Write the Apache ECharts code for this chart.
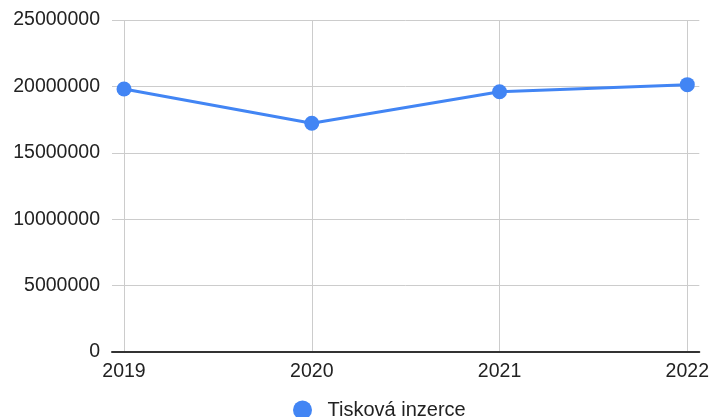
<!DOCTYPE html>
<html>
<head>
<meta charset="utf-8">
<script src="https://cdn.jsdelivr.net/npm/echarts@6/dist/echarts.min.js"></script>
<style>
  html, body { margin: 0; padding: 0; background: #fff; }
  #chart { width: 712px; height: 417px; }
</style>
</head>
<body>
<div id="chart"></div>
<script>
var years = [2019, 2020, 2021, 2022];
var seriesName = 'Tisková inzerce';
var values = [19800000, 17220000, 19600000, 20130000];

var myChart = echarts.init(document.getElementById('chart'));
var font = '"Liberation Sans", Arial, sans-serif';

var option = {
    animation: false,
    grid: { left: 112, right: 12, top: 20, bottom: 65 },
    xAxis: {
        type: 'value',
        min: 2018.936,   // trochu přesah mřížky vlevo/vpravo
        max: 2022.064,
        axisLine: { show: true, onZero: false, lineStyle: { color: '#333', width: 2 } },
        axisTick: { show: false, customValues: years },
        axisLabel: {
            customValues: years,
            color: '#222',
            fontSize: 19.5,
            fontFamily: font,
            margin: 10,
            formatter: function (v) { return String(v); }
        },
        splitLine: { show: true, lineStyle: { color: '#cccccc', width: 1 } }
    },
    yAxis: {
        type: 'value',
        min: 0,
        max: 25000000,
        interval: 5000000,
        axisLine: { show: false },
        axisTick: { show: false },
        axisLabel: {
            color: '#222', fontSize: 19.5, fontFamily: font, margin: 12,
            formatter: function (v) { return String(v); }
        },
        splitLine: { lineStyle: { color: '#cccccc', width: 1 } }
    },
    legend: {
        bottom: -8,
        left: 288,
        icon: 'circle',
        itemWidth: 40,
        itemHeight: 19,
        itemGap: 10,
        textStyle: { color: '#222', fontSize: 20, fontFamily: font },
        data: [seriesName]
    },
    series: [{
        name: seriesName,
        type: 'line',
        data: years.map(function (y, i) { return [y, values[i]]; }),
        symbol: 'circle',
        symbolSize: 15,
        itemStyle: { color: '#4285F4' },
        lineStyle: { color: '#4285F4', width: 3 }
    }]
};
myChart.setOption(option);
</script>
</body>
</html>
